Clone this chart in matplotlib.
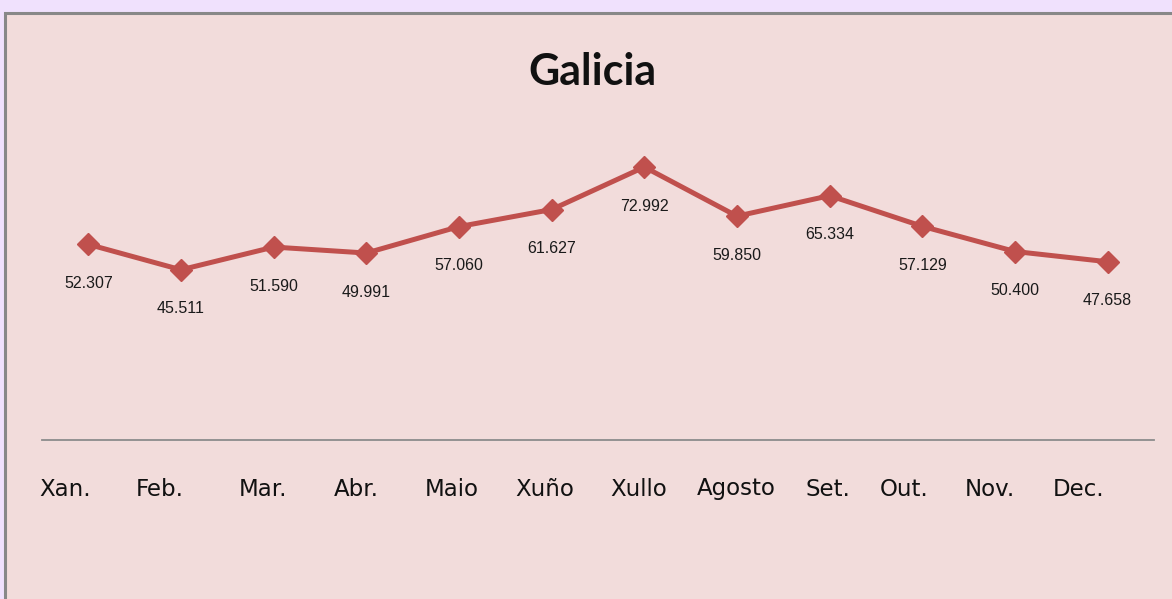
import matplotlib
matplotlib.use("Agg")
import matplotlib.pyplot as plt
from matplotlib.patches import Rectangle

# ---- data ----
months = ["Xan.", "Feb.", "Mar.", "Abr.", "Maio", "Xuño", "Xullo", "Agosto", "Set.", "Out.", "Nov.", "Dec."]
values = [52.307, 45.511, 51.590, 49.991, 57.060, 61.627, 72.992, 59.850, 65.334, 57.129, 50.400, 47.658]
value_labels = ["52.307", "45.511", "51.590", "49.991", "57.060", "61.627", "72.992", "59.850", "65.334", "57.129", "50.400", "47.658"]
title = "Galicia"

# ---- layout (pixels) ----
W, H = 1172, 599
month_label_x = [65, 160, 263, 356, 452, 545, 639, 736, 828, 904, 990, 1079]
month_label_y = 489

fig = plt.figure(figsize=(W / 100, H / 100), dpi=100)
fig.patch.set_facecolor("#F0E1FD")

def fx(px):
    return px / W

def fy(py):
    return 1 - py / H

# pink panel with gray border (top and left)
fig.patches.append(Rectangle((fx(5), fy(H + 20)), fx(W + 20), (H + 20 - 13) / H,
                             transform=fig.transFigure, facecolor="#F2DCDB",
                             edgecolor="#888888", linewidth=2.2, zorder=-5))

ax_left, ax_right = 42, 1154
ax_bottom, ax_top = 440, 140.8
ax = fig.add_axes([fx(ax_left), fy(ax_bottom), fx(ax_right - ax_left), (ax_bottom - ax_top) / H])
ax.set_zorder(2)
ax.set_facecolor("none")
x = list(range(len(months)))
ax.plot(x, values, color="#C0504D", linewidth=3.6, marker="D", markersize=11,
        markerfacecolor="#C0504D", markeredgecolor="#C0504D", zorder=3, clip_on=False)
for xi, v, lab in zip(x, values, value_labels):
    ax.annotate(lab, (xi, v), xytext=(0, -39), textcoords="offset pixels",
                ha="center", va="center", fontsize=11.5, color="#1a1a1a",
                family=["Liberation Sans", "DejaVu Sans"])
ax.set_xlim(-0.5, len(months) - 0.5)
ax.set_ylim(0, 80)
for s in ["top", "right", "left"]:
    ax.spines[s].set_visible(False)
ax.spines["bottom"].set_color("#8c8c8c")
ax.spines["bottom"].set_linewidth(1.3)
ax.set_xticks([])
ax.set_yticks([])

for lx, m in zip(month_label_x, months):
    fig.text(fx(lx), fy(month_label_y), m, ha="center", va="center",
             fontsize=16.5, color="#111111", family=["DejaVu Sans"], zorder=3)

fig.text(fx(592), fy(72), title, ha="center", va="center", fontsize=31,
         fontweight="bold", color="#111111", family=["Lato", "DejaVu Sans"], zorder=3)

fig.savefig("out.png", dpi=100, facecolor=fig.get_facecolor())
